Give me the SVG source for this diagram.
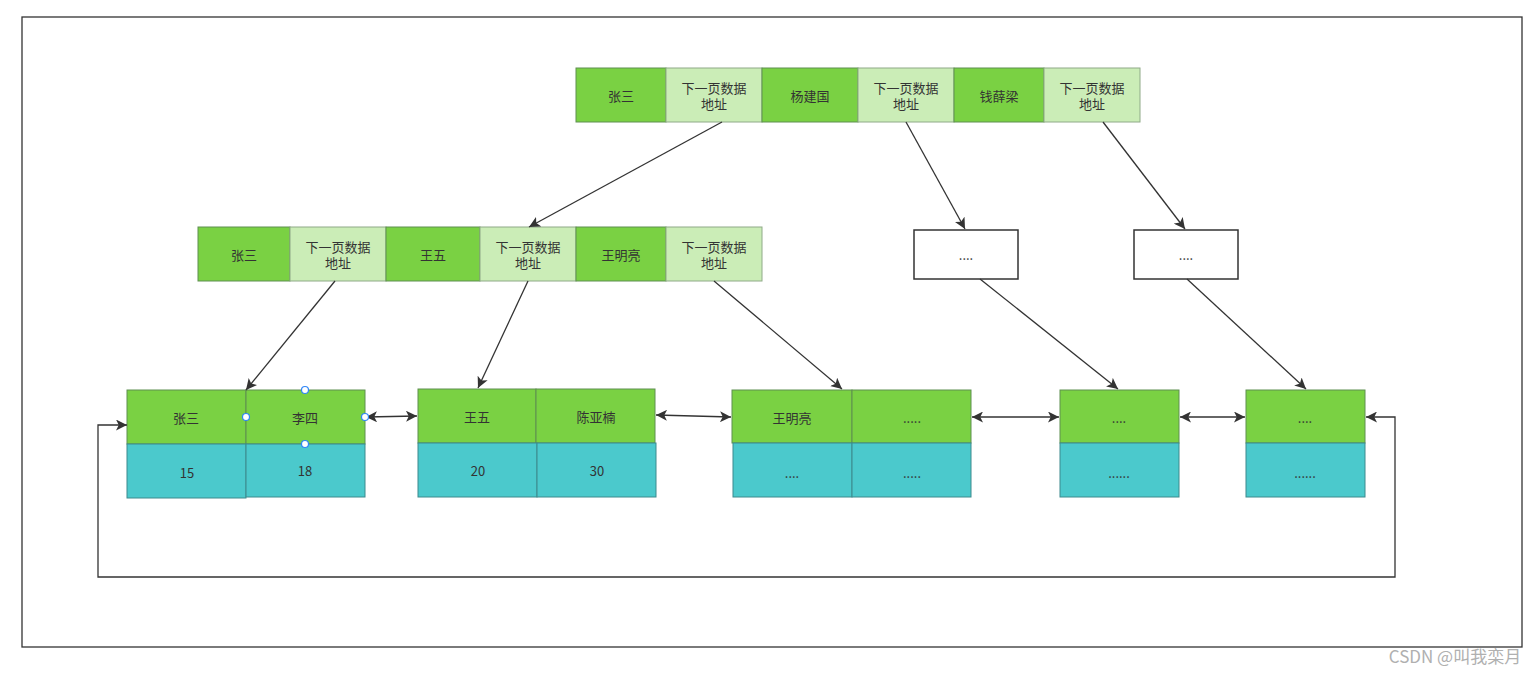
<svg xmlns="http://www.w3.org/2000/svg" width="1536" height="673" viewBox="0 0 1536 673">
<defs>
<marker id="ah" viewBox="0 0 10 10" refX="10" refY="5" markerWidth="11" markerHeight="11" markerUnits="userSpaceOnUse" orient="auto-start-reverse">
<path d="M0,0 L10,5 L0,10 L2.5,5 Z" fill="#333"/>
</marker>
<style>
text{font-family:"Noto Sans CJK SC","Liberation Sans",sans-serif;font-size:13px;fill:#333;text-anchor:middle;dominant-baseline:central}
.g{fill:#7ad143;stroke:#5f8f50;stroke-width:1}
.l{fill:#cbedb7;stroke:#8faa88;stroke-width:1}
.c{fill:#4bc9cc;stroke:#3c8a8d;stroke-width:1}
.w{fill:#fff;stroke:#333;stroke-width:1.5}
.e{fill:none;stroke:#333;stroke-width:1.3}
.h{fill:#fff;stroke:#2f86f6;stroke-width:1.2}
</style>
</defs>
<rect x="0" y="0" width="1536" height="673" fill="#fff"/>
<rect x="22" y="17" width="1500" height="630" fill="none" stroke="#333" stroke-width="1.3"/>

<g id="root">
<rect class="g" x="576" y="68" width="90" height="54"/><text x="621" y="95">张三</text>
<rect class="l" x="666" y="68" width="96" height="54"/><text x="714" y="87">下一页数据</text><text x="714" y="103">地址</text>
<rect class="g" x="762" y="68" width="96" height="54"/><text x="810" y="95">杨建国</text>
<rect class="l" x="858" y="68" width="96" height="54"/><text x="906" y="87">下一页数据</text><text x="906" y="103">地址</text>
<rect class="g" x="954" y="68" width="90" height="54"/><text x="999" y="95">钱薛梁</text>
<rect class="l" x="1044" y="68" width="96" height="54"/><text x="1092" y="87">下一页数据</text><text x="1092" y="103">地址</text>
</g>

<g id="mid">
<rect class="g" x="198" y="227" width="92" height="54"/><text x="244" y="254">张三</text>
<rect class="l" x="290" y="227" width="96" height="54"/><text x="338" y="246">下一页数据</text><text x="338" y="262">地址</text>
<rect class="g" x="386" y="227" width="94" height="54"/><text x="433" y="254">王五</text>
<rect class="l" x="480" y="227" width="96" height="54"/><text x="528" y="246">下一页数据</text><text x="528" y="262">地址</text>
<rect class="g" x="576" y="227" width="90" height="54"/><text x="621" y="254">王明亮</text>
<rect class="l" x="666" y="227" width="96" height="54"/><text x="714" y="246">下一页数据</text><text x="714" y="262">地址</text>
</g>

<g id="box1"><rect class="w" x="914" y="230" width="104" height="49"/><text x="966" y="254">....</text></g>
<g id="box2"><rect class="w" x="1134" y="230" width="104" height="49"/><text x="1186" y="254">....</text></g>

<g id="leaf1">
<rect class="g" x="127" y="390" width="119" height="54"/><text x="186" y="417">张三</text>
<rect class="g" x="246" y="390" width="119" height="54"/><text x="305" y="417">李四</text>
<rect class="c" x="127" y="444" width="119" height="54"/><text x="187" y="472">15</text>
<rect class="c" x="246" y="444" width="119" height="53"/><text x="305" y="470">18</text>
</g>
<g id="leaf2">
<rect class="g" x="418" y="389" width="118" height="54"/><text x="477" y="416">王五</text>
<rect class="g" x="536" y="389" width="119" height="54"/><text x="596" y="416">陈亚楠</text>
<rect class="c" x="418" y="443" width="119" height="54"/><text x="478" y="470">20</text>
<rect class="c" x="537" y="443" width="119" height="54"/><text x="597" y="470">30</text>
</g>
<g id="leaf3">
<rect class="g" x="732" y="390" width="120" height="53"/><text x="792" y="417">王明亮</text>
<rect class="g" x="852" y="390" width="119" height="53"/><text x="912" y="417">.....</text>
<rect class="c" x="733" y="443" width="119" height="54"/><text x="792" y="472">....</text>
<rect class="c" x="852" y="443" width="119" height="54"/><text x="912" y="472">.....</text>
</g>
<g id="leaf4">
<rect class="g" x="1060" y="390" width="119" height="53"/><text x="1119" y="417">....</text>
<rect class="c" x="1060" y="443" width="119" height="54"/><text x="1119" y="472">......</text>
</g>
<g id="leaf5">
<rect class="g" x="1246" y="390" width="119" height="53"/><text x="1305" y="417">....</text>
<rect class="c" x="1246" y="443" width="119" height="54"/><text x="1305" y="472">......</text>
</g>

<g id="connectors">
<line class="e" x1="722" y1="122" x2="529" y2="227" marker-end="url(#ah)"/>
<line class="e" x1="906" y1="122" x2="965" y2="229" marker-end="url(#ah)"/>
<line class="e" x1="1103" y1="122" x2="1185" y2="229" marker-end="url(#ah)"/>
<line class="e" x1="335" y1="281" x2="246" y2="390" marker-end="url(#ah)"/>
<line class="e" x1="528" y1="281" x2="478" y2="388" marker-end="url(#ah)"/>
<line class="e" x1="714" y1="281" x2="842" y2="389" marker-end="url(#ah)"/>
<line class="e" x1="980" y1="279" x2="1118" y2="389" marker-end="url(#ah)"/>
<line class="e" x1="1187" y1="279" x2="1306" y2="389" marker-end="url(#ah)"/>
<line class="e" x1="366" y1="417" x2="417" y2="416" marker-start="url(#ah)" marker-end="url(#ah)"/>
<line class="e" x1="656" y1="415" x2="731" y2="417" marker-start="url(#ah)" marker-end="url(#ah)"/>
<line class="e" x1="972" y1="417" x2="1059" y2="417" marker-start="url(#ah)" marker-end="url(#ah)"/>
<line class="e" x1="1180" y1="417" x2="1245" y2="417" marker-start="url(#ah)" marker-end="url(#ah)"/>
<polyline class="e" points="127,425 98,425 98,577 1395,577 1395,417 1366,417" marker-start="url(#ah)" marker-end="url(#ah)"/>
</g>

<g id="handles">
<circle class="h" cx="305" cy="390" r="3.5"/>
<circle class="h" cx="246" cy="417" r="3.5"/>
<circle class="h" cx="365" cy="417" r="3.5"/>
<circle class="h" cx="305" cy="444" r="3.5"/>
</g>

<text x="1455" y="655" style="font-size:17px;fill:#b0b0b0">CSDN @叫我栾月</text>
</svg>
